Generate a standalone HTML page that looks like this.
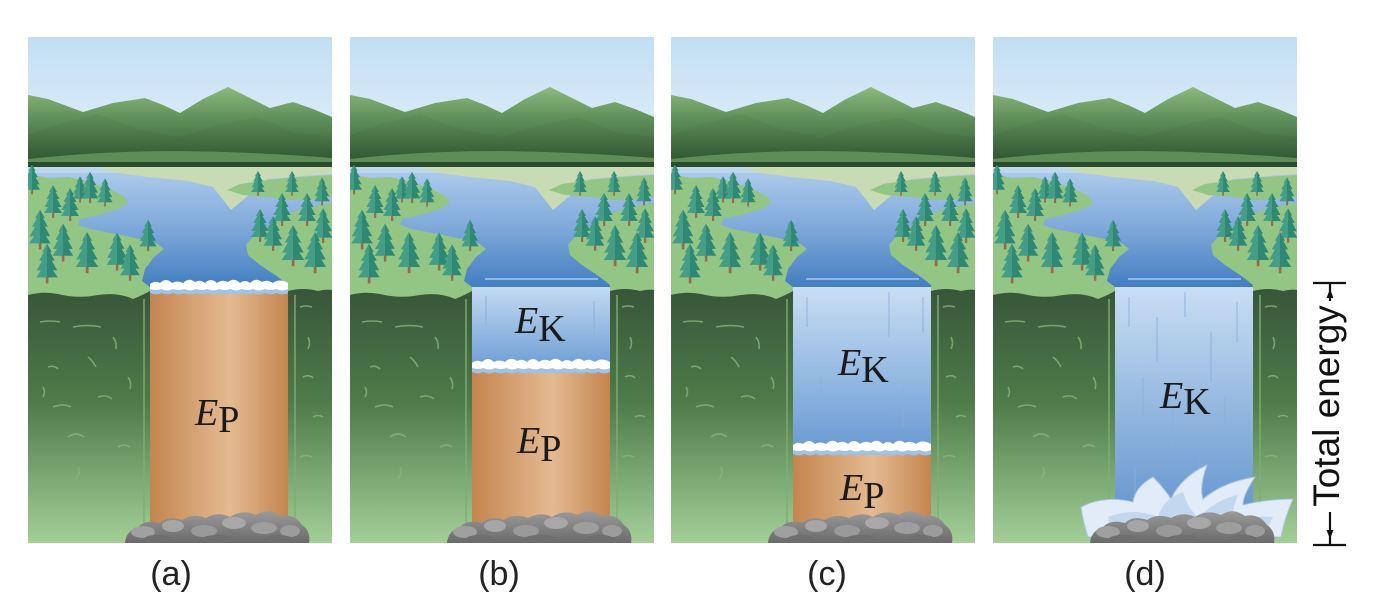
<!DOCTYPE html>
<html><head><meta charset="utf-8">
<style>html,body{margin:0;padding:0;background:#fff;width:1376px;height:613px;overflow:hidden}</style>
</head><body>
<svg width="1376" height="613" viewBox="0 0 1376 613" xmlns="http://www.w3.org/2000/svg" xmlns:xlink="http://www.w3.org/1999/xlink">
<defs>
 <clipPath id="pc"><rect x="0" y="0" width="304" height="506"/></clipPath>
 <linearGradient id="sky" x1="0" y1="0" x2="0" y2="1"><stop offset="0" stop-color="#c2def4"/><stop offset="1" stop-color="#e8f3fa"/></linearGradient>
 <linearGradient id="mt1" x1="0" y1="0" x2="0" y2="1"><stop offset="0" stop-color="#8cbb7e"/><stop offset="0.45" stop-color="#5a8a55"/><stop offset="1" stop-color="#2e5430"/></linearGradient>
 <linearGradient id="mt2" x1="0" y1="0" x2="0" y2="1"><stop offset="0" stop-color="#5f8f59"/><stop offset="1" stop-color="#2a4d2c"/></linearGradient>
 <linearGradient id="lake" x1="0" y1="0" x2="0" y2="1"><stop offset="0" stop-color="#b0cdec"/><stop offset="0.5" stop-color="#7ea8da"/><stop offset="1" stop-color="#3e7bbf"/></linearGradient>
 <linearGradient id="cliff" x1="0" y1="0" x2="0" y2="1"><stop offset="0" stop-color="#38563a"/><stop offset="0.45" stop-color="#4f7c4a"/><stop offset="1" stop-color="#a3cf97"/></linearGradient>
 <linearGradient id="brown" x1="0" y1="0" x2="1" y2="0"><stop offset="0" stop-color="#c4854f"/><stop offset="0.58" stop-color="#e4ba91"/><stop offset="1" stop-color="#c4854f"/></linearGradient>
 <linearGradient id="blue" x1="0" y1="0" x2="0" y2="1"><stop offset="0" stop-color="#c9def3"/><stop offset="1" stop-color="#5e91cc"/></linearGradient>
 <linearGradient id="blueS" x1="0" y1="0" x2="0" y2="1"><stop offset="0" stop-color="#c4daf1"/><stop offset="1" stop-color="#6e9ed5"/></linearGradient>
 <linearGradient id="blueC" x1="0" y1="0" x2="0" y2="1"><stop offset="0" stop-color="#c9def3"/><stop offset="1" stop-color="#6a9bd3"/></linearGradient>
 <linearGradient id="rockg" x1="0" y1="0" x2="0" y2="1"><stop offset="0" stop-color="#9a9a9a"/><stop offset="1" stop-color="#6a6a6a"/></linearGradient>

 <g id="tr">
  <rect x="-1" y="10" width="2.2" height="7" fill="#9a6a48"/>
  <path d="M0,-16 L4,-9 L2.5,-9 L6.5,-2 L4,-2 L8.5,6 L5,6 L9,12 L-9,12 L-5,6 L-8.5,6 L-4,-2 L-6.5,-2 L-2.5,-9 L-4,-9 Z" fill="#2e8874"/>
  <path d="M0,-16 L-4,-9 L-2.5,-9 L-6.5,-2 L-4,-2 L-8.5,6 L-5,6 L-9,12 L0,12 Z" fill="#55ae97" opacity=".55"/>
 </g>

 <g id="bg">
  <rect x="0" y="0" width="304" height="140" fill="url(#sky)"/>
  <path d="M0,58 L20,62 L55,75 L85,66 L117,61 L135,68 L152,76 L175,62 L200,50 L220,60 L242,71 L265,65 L285,72 L304,80 L304,130 L0,130 Z" fill="url(#mt1)"/>
  <path d="M0,98 L35,86 L70,77 L110,92 L150,100 L190,88 L228,80 L268,96 L304,100 L304,130 L0,130 Z" fill="url(#mt2)" opacity=".75"/>
  <path d="M0,122 Q70,114 150,114 Q230,115 304,121 L304,127 L0,127 Z" fill="#5f8d58"/>
  <rect x="0" y="125" width="304" height="5" fill="#2b4b2d"/>
  <rect x="0" y="130" width="304" height="124" fill="url(#lake)"/>
  <rect x="0" y="130" width="304" height="6" fill="#bcd6ee"/>
  <path d="M70,130 L304,130 L304,137 L275,139 L240,142 L203,173 L185,150 L160,144 L120,140 L90,136 Z" fill="#c8dbb4"/>
  <path d="M0,138 L10,139 L20,141 L40,140 L62,145 L82,152 L97,160 L100,166 L90,172 L70,178 L52,182 L50,188 L62,192 L88,197 L112,202 L130,207 L136,212 L126,220 L117,232 L114,244 L122,250 L122,266 L0,266 Z" fill="#93c585"/>
  <path d="M199,153 L212,147 L240,143 L270,140 L304,138 L304,160 L285,162 L262,163 L240,160 L215,158 Z" fill="#93c585"/>
  <path d="M304,166 L280,170 L262,176 L246,186 L228,196 L218,208 L220,218 L232,228 L250,240 L260,248 L260,266 L304,266 Z" fill="#93c585"/>
  <g>
   <use xlink:href="#tr" transform="translate(4,142) scale(.9)"/>
   <use xlink:href="#tr" transform="translate(52,152) scale(.8)"/>
   <use xlink:href="#tr" transform="translate(62,150) scale(.95)"/>
   <use xlink:href="#tr" transform="translate(77,155) scale(.85)"/>
   <use xlink:href="#tr" transform="translate(25,164) scale(1)"/>
   <use xlink:href="#tr" transform="translate(42,167) scale(1)"/>
   <use xlink:href="#tr" transform="translate(120,198) scale(.95)"/>
   <use xlink:href="#tr" transform="translate(12,192) scale(1.2)"/>
   <use xlink:href="#tr" transform="translate(35,205) scale(1.15)"/>
   <use xlink:href="#tr" transform="translate(89,214) scale(1.15)"/>
   <use xlink:href="#tr" transform="translate(59,215) scale(1.25)"/>
   <use xlink:href="#tr" transform="translate(102,225) scale(1.1)"/>
   <use xlink:href="#tr" transform="translate(19,226) scale(1.2)"/>
   <use xlink:href="#tr" transform="translate(230,146) scale(.75)"/>
   <use xlink:href="#tr" transform="translate(264,146) scale(.75)"/>
   <use xlink:href="#tr" transform="translate(294,154) scale(.85)"/>
   <use xlink:href="#tr" transform="translate(254,172) scale(1)"/>
   <use xlink:href="#tr" transform="translate(279,172) scale(1)"/>
   <use xlink:href="#tr" transform="translate(295,188) scale(1.05)"/>
   <use xlink:href="#tr" transform="translate(232,188) scale(1)"/>
   <use xlink:href="#tr" transform="translate(245,196) scale(1.05)"/>
   <use xlink:href="#tr" transform="translate(265,208) scale(1.25)"/>
   <use xlink:href="#tr" transform="translate(287,215) scale(1.25)"/>
  </g>
  <path d="M0,258 Q15,254 30,257 Q50,262 70,258 Q90,255 105,262 Q115,258 122,254 L122,506 L0,506 Z" fill="url(#cliff)"/>
  <path d="M260,254 Q275,250 290,254 Q298,252 304,253 L304,506 L260,506 Z" fill="url(#cliff)"/>
  <line x1="116" y1="262" x2="116" y2="506" stroke="#7fae73" stroke-width="2" opacity=".7"/>
  <line x1="267" y1="258" x2="267" y2="506" stroke="#7fae73" stroke-width="2" opacity=".7"/>
  <g fill="none" stroke="#86b67a" stroke-width="1.6" opacity=".8">
   <path d="M12,285 q10,-2 20,0"/><path d="M45,290 q15,-3 28,0"/><path d="M20,330 q6,-2 10,2"/>
   <path d="M60,320 q5,4 8,10"/><path d="M85,300 q4,5 3,12"/><path d="M25,370 q10,-4 18,0"/>
   <path d="M70,360 q8,-3 14,2"/><path d="M40,400 q8,-6 16,0"/><path d="M90,410 q6,-4 12,0"/>
   <path d="M50,430 q3,6 -2,12"/><path d="M15,350 q3,5 0,10"/><path d="M100,340 q4,6 2,12"/>
   <path d="M272,270 q6,-2 12,0"/><path d="M280,300 q3,6 0,12"/><path d="M275,340 q6,-3 10,1"/>
   <path d="M285,380 q5,-3 10,0"/><path d="M272,420 q6,-3 12,0"/><path d="M30,460 q8,-3 14,0"/>
  </g>
 </g>

 <g id="foam">
  <path d="M0,6 q5,-4 10,-1 q6,-6 12,0 q5,-3 11,0 q6,-6 12,-1 q5,-3 10,1 q6,-6 12,0 q5,-4 11,-1 q6,-5 12,1 q5,-4 10,0 q6,-6 12,-1 q5,-3 11,1 q6,-5 15,0 L138,13 q-5.75,3 -11.5,0 q-5.75,3 -11.5,0 q-5.75,3 -11.5,0 q-5.75,3 -11.5,0 q-5.75,3 -11.5,0 q-5.75,3 -11.5,0 q-5.75,3 -11.5,0 q-5.75,3 -11.5,0 q-5.75,3 -11.5,0 q-5.75,3 -11.5,0 q-5.75,3 -11.5,0 q-5.75,3 -11.5,0 Z" fill="#9fc2e8"/>
  <path d="M0,4 q5,-4 10,-1 q6,-6 12,0 q5,-3 11,0 q6,-6 12,-1 q5,-3 10,1 q6,-6 12,0 q5,-4 11,-1 q6,-5 12,1 q5,-4 10,0 q6,-6 12,-1 q5,-3 11,1 q6,-5 15,0 L138,9 q-5.75,3 -11.5,0 q-5.75,2 -11.5,0 q-5.75,3 -11.5,0 q-5.75,2 -11.5,0 q-5.75,3 -11.5,0 q-5.75,2 -11.5,0 q-5.75,3 -11.5,0 q-5.75,2 -11.5,0 q-5.75,3 -11.5,0 q-5.75,2 -11.5,0 q-5.75,3 -11.5,0 q-5.75,2 -11.5,0 Z" fill="#ffffff"/>
 </g>

 <g id="rocks">
  <path d="M97,506 Q98,494 110,490 Q118,482 132,486 Q140,478 154,483 Q164,476 178,481 Q190,474 202,480 Q214,472 228,478 Q240,470 252,479 Q266,476 274,488 Q283,494 281,506 Z" fill="url(#rockg)"/>
  <ellipse cx="115" cy="495" rx="12" ry="6" fill="#a0a0a0"/>
  <ellipse cx="145" cy="489" rx="11" ry="6" fill="#a6a6a6"/>
  <ellipse cx="176" cy="494" rx="13" ry="6" fill="#9a9a9a"/>
  <ellipse cx="206" cy="486" rx="12" ry="6" fill="#a8a8a8"/>
  <ellipse cx="236" cy="491" rx="13" ry="6" fill="#9e9e9e"/>
  <ellipse cx="262" cy="494" rx="10" ry="6" fill="#9c9c9c"/>
  <ellipse cx="130" cy="502" rx="14" ry="4" fill="#6e6e6e"/>
  <ellipse cx="190" cy="502" rx="16" ry="4" fill="#6e6e6e"/>
  <ellipse cx="250" cy="502" rx="14" ry="4" fill="#6e6e6e"/>
 </g>

 <g id="streaks" stroke="#89afdc" stroke-width="1.3" opacity=".7" fill="none">
  <line x1="14" y1="10" x2="14" y2="40"/><line x1="42" y1="30" x2="42" y2="75"/>
  <line x1="70" y1="5" x2="70" y2="30"/><line x1="96" y1="45" x2="96" y2="95"/>
  <line x1="122" y1="15" x2="122" y2="55"/><line x1="28" y1="90" x2="28" y2="130"/>
  <line x1="110" y1="110" x2="110" y2="150"/><line x1="58" y1="120" x2="58" y2="165"/>
  <line x1="84" y1="170" x2="84" y2="205"/><line x1="20" y1="180" x2="20" y2="215"/>
 </g>
</defs>

<!-- Panel a -->
<g transform="translate(28,37)">
 <use xlink:href="#bg" clip-path="url(#pc)"/>
 <rect x="122" y="250" width="138" height="245" fill="url(#brown)"/>
 <use xlink:href="#foam" transform="translate(122,243)"/>
 <use xlink:href="#rocks"/>
</g>

<!-- Panel b -->
<g transform="translate(350,37)">
 <use xlink:href="#bg" clip-path="url(#pc)"/>
 <rect x="122" y="250" width="138" height="80" fill="url(#blueS)"/>
 <line x1="135" y1="242" x2="248" y2="242" stroke="#a8c8eb" stroke-width="1.5"/>
 <g transform="translate(122,254)"><line x1="14" y1="5" x2="14" y2="35" stroke="#8fb3de" stroke-width="1.2"/><line x1="122" y1="10" x2="122" y2="50" stroke="#8fb3de" stroke-width="1.2"/></g>
 <rect x="122" y="330" width="138" height="165" fill="url(#brown)"/>
 <use xlink:href="#foam" transform="translate(122,322)"/>
 <use xlink:href="#rocks"/>
</g>

<!-- Panel c -->
<g transform="translate(671,37)">
 <use xlink:href="#bg" clip-path="url(#pc)"/>
 <rect x="122" y="250" width="138" height="162" fill="url(#blueC)"/>
 <line x1="135" y1="242" x2="248" y2="242" stroke="#a8c8eb" stroke-width="1.5"/>
 <g transform="translate(122,250)" stroke="#89afdc" stroke-width="1.3" opacity=".7"><line x1="14" y1="10" x2="14" y2="40"/><line x1="96" y1="5" x2="96" y2="50"/><line x1="130" y1="10" x2="130" y2="45"/><line x1="28" y1="90" x2="28" y2="120"/><line x1="110" y1="100" x2="110" y2="140"/></g>
 <rect x="122" y="412" width="138" height="83" fill="url(#brown)"/>
 <use xlink:href="#foam" transform="translate(122,404)"/>
 <use xlink:href="#rocks"/>
</g>

<!-- Panel d -->
<g transform="translate(993,37)">
 <use xlink:href="#bg" clip-path="url(#pc)"/>
 <rect x="122" y="250" width="138" height="245" fill="url(#blue)"/>
 <line x1="135" y1="242" x2="248" y2="242" stroke="#a8c8eb" stroke-width="1.5"/>
 <use xlink:href="#streaks" transform="translate(122,250)"/>
 <path d="M88,470 Q112,458 140,465 Q142,450 160,440 Q172,452 178,462 Q188,440 214,428 Q206,450 210,462 Q230,445 262,440 Q250,458 250,468 Q275,462 300,462 Q292,480 288,500 L95,500 Q90,485 88,470 Z" fill="#e2ecf8" stroke="#a9c4e6" stroke-width="1"/>
 <path d="M115,480 Q140,470 165,480 Q170,462 190,455 Q195,472 205,480 Q225,462 245,458 Q238,475 240,485 Q260,478 280,480 L270,500 L120,500 Z" fill="#c3d7ef"/>
 <path d="M150,490 Q170,475 195,485 Q215,470 235,482 L230,500 L155,500 Z" fill="#f4f8fd"/>
 <use xlink:href="#rocks"/>
</g>

<!-- Energy labels -->
<g font-family="'Liberation Serif', serif" font-size="38" fill="#1a1a1a">
 <text x="195" y="425"><tspan font-style="italic">E</tspan><tspan dy="7">P</tspan></text>
 <text x="515" y="333"><tspan font-style="italic">E</tspan><tspan dy="8">K</tspan></text>
 <text x="517" y="453"><tspan font-style="italic">E</tspan><tspan dy="8">P</tspan></text>
 <text x="838" y="375"><tspan font-style="italic">E</tspan><tspan dy="7">K</tspan></text>
 <text x="840" y="500"><tspan font-style="italic">E</tspan><tspan dy="8">P</tspan></text>
 <text x="1160" y="408"><tspan font-style="italic">E</tspan><tspan dy="6">K</tspan></text>
</g>

<!-- Panel captions -->
<g font-family="'Liberation Sans', sans-serif" font-size="34" fill="#222" text-anchor="middle">
 <text x="171" y="585">(a)</text>
 <text x="499" y="585">(b)</text>
 <text x="827" y="585">(c)</text>
 <text x="1145" y="585">(d)</text>
</g>

<!-- Total energy bracket -->
<g stroke="#111" stroke-width="2.2" fill="none">
 <line x1="1313" y1="283" x2="1346" y2="283"/>
 <line x1="1330" y1="284" x2="1330" y2="301"/>
 <line x1="1313" y1="545" x2="1346" y2="545"/>
 <line x1="1330" y1="512" x2="1330" y2="544"/>
</g>
<path d="M1330,289 L1326.5,298 L1333.5,298 Z" fill="#111"/>
<path d="M1330,539 L1326.5,530 L1333.5,530 Z" fill="#111"/>
<text transform="translate(1339,406) rotate(-90)" text-anchor="middle" font-family="'Liberation Sans', sans-serif" font-size="37" fill="#111">Total energy</text>
</svg>
</body></html>
